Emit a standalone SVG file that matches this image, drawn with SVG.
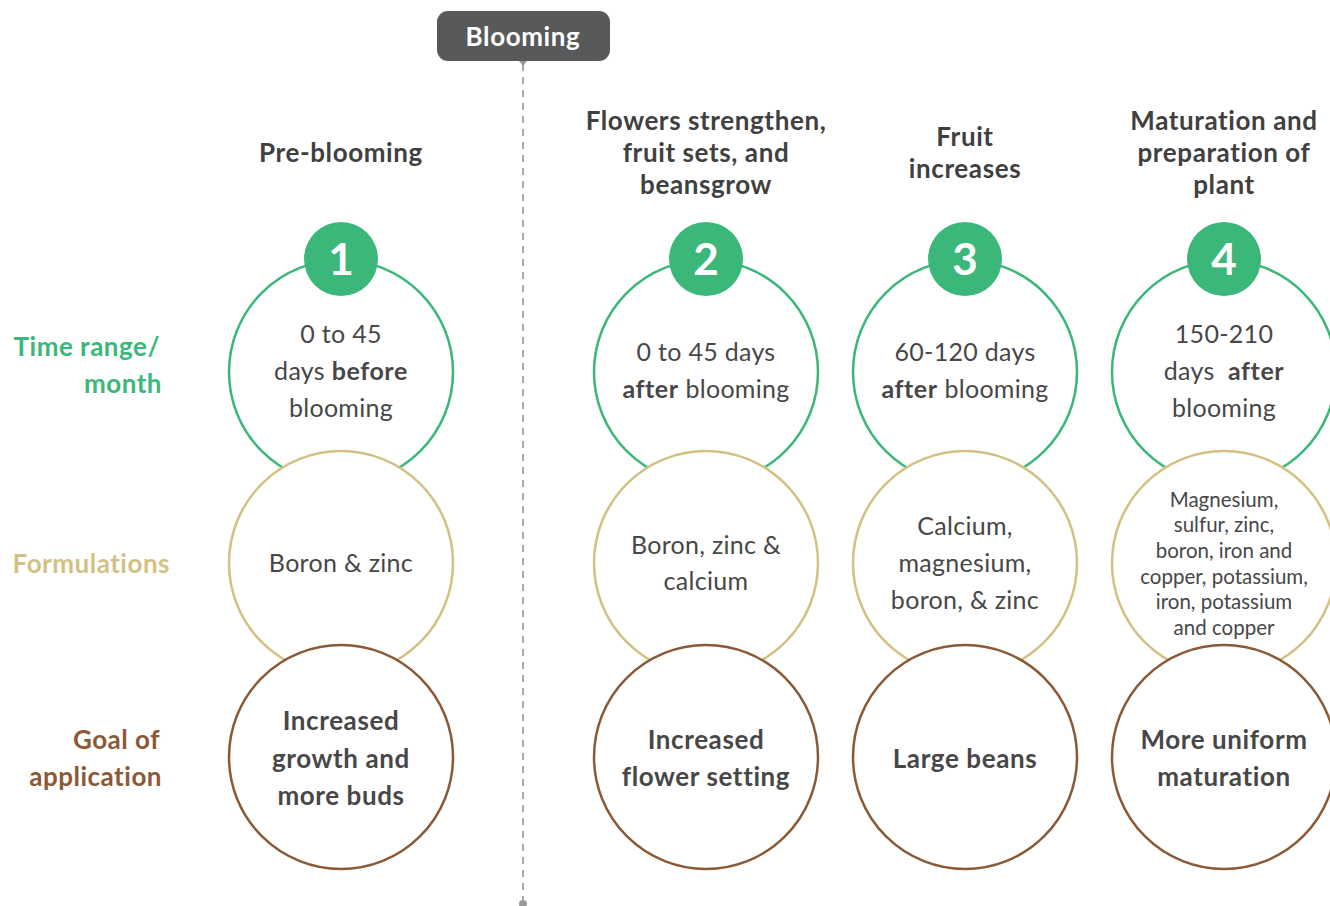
<svg xmlns="http://www.w3.org/2000/svg" width="1330" height="906" viewBox="0 0 1330 906">
<style>
text{font-family:"Lato","Liberation Sans",sans-serif;text-anchor:middle;}
.h{font-size:26px;font-weight:700;fill:#404040;letter-spacing:0.6px;}
.t{font-size:25px;fill:#474747;letter-spacing:0.3px;}
.tb{font-weight:700;letter-spacing:0.6px;}
.s{font-size:20.5px;fill:#474747;}
.g{font-size:26px;font-weight:700;fill:#474747;letter-spacing:0.6px;}
.lab{font-size:26px;font-weight:700;text-anchor:end;letter-spacing:0.5px;}
.cg{fill:#fff;stroke:#3bb77a;stroke-width:2.5;}
.cy{fill:#fff;stroke:#d3c184;stroke-width:2.5;}
.cb{fill:#fff;stroke:#8a5a37;stroke-width:2.5;}
.badge{fill:#3bb77a;}
.num{font-size:44px;font-weight:700;fill:#fff;}
</style>
<rect width="1330" height="906" fill="#fff"/>
<g id="connectors">
<line x1="523" y1="64" x2="523" y2="900" stroke="#aaa" stroke-width="2" stroke-dasharray="7 6"/>
<path d="M519,61 L527,61 L523,66 Z" fill="#999"/>
<circle cx="523" cy="904" r="4" fill="#999"/>
</g>
<g id="blooming">
<rect x="437" y="11" width="173" height="50" rx="11" fill="#58595b"/>
<text x="523" y="46" font-size="26" font-weight="700" fill="#fff" letter-spacing="0.6">Blooming</text>
</g>
<g id="labels">
<text class="lab" x="160" y="356" fill="#3bb77a">Time range/</text>
<text class="lab" x="162" y="393" fill="#3bb77a">month</text>
<text class="lab" x="170" y="573" fill="#d3c184">Formulations</text>
<text class="lab" x="160" y="749" fill="#8a5a37">Goal of</text>
<text class="lab" x="162" y="786" fill="#8a5a37">application</text>
</g>
<g id="col1">
<text class="h" x="341" y="162">Pre-blooming</text>
<circle class="cg" cx="341" cy="372" r="112"/>
<circle class="cy" cx="341" cy="563" r="112"/>
<circle class="cb" cx="341" cy="757" r="112"/>
<circle class="badge" cx="341" cy="259" r="37"/>
<text class="num" x="341" y="275">1</text>
<text class="t" x="341" y="343">0 to 45</text>
<text class="t" x="341" y="380">days <tspan class="tb">before</tspan></text>
<text class="t" x="341" y="417">blooming</text>
<text class="t" x="341" y="572">Boron &amp; zinc</text>
<text class="g" x="341" y="730">Increased</text>
<text class="g" x="341" y="768">growth and</text>
<text class="g" x="341" y="805">more buds</text>
</g>
<g id="col2">
<text class="h" x="706" y="130">Flowers strengthen,</text>
<text class="h" x="706" y="162">fruit sets, and</text>
<text class="h" x="706" y="194">beansgrow</text>
<circle class="cg" cx="706" cy="372" r="112"/>
<circle class="cy" cx="706" cy="563" r="112"/>
<circle class="cb" cx="706" cy="757" r="112"/>
<circle class="badge" cx="706" cy="259" r="37"/>
<text class="num" x="706" y="275">2</text>
<text class="t" x="706" y="361">0 to 45 days</text>
<text class="t" x="706" y="398"><tspan class="tb">after</tspan> blooming</text>
<text class="t" x="706" y="554">Boron, zinc &amp;</text>
<text class="t" x="706" y="590">calcium</text>
<text class="g" x="706" y="749">Increased</text>
<text class="g" x="706" y="786">flower setting</text>
</g>
<g id="col3">
<text class="h" x="965" y="146">Fruit</text>
<text class="h" x="965" y="178">increases</text>
<circle class="cg" cx="965" cy="372" r="112"/>
<circle class="cy" cx="965" cy="563" r="112"/>
<circle class="cb" cx="965" cy="757" r="112"/>
<circle class="badge" cx="965" cy="259" r="37"/>
<text class="num" x="965" y="275">3</text>
<text class="t" x="965" y="361">60-120 days</text>
<text class="t" x="965" y="398"><tspan class="tb">after</tspan> blooming</text>
<text class="t" x="965" y="535">Calcium,</text>
<text class="t" x="965" y="572">magnesium,</text>
<text class="t" x="965" y="609">boron, &amp; zinc</text>
<text class="g" x="965" y="768">Large beans</text>
</g>
<g id="col4">
<text class="h" x="1224" y="130">Maturation and</text>
<text class="h" x="1224" y="162">preparation of</text>
<text class="h" x="1224" y="194">plant</text>
<circle class="cg" cx="1224" cy="372" r="112"/>
<circle class="cy" cx="1224" cy="563" r="112"/>
<circle class="cb" cx="1224" cy="757" r="112"/>
<circle class="badge" cx="1224" cy="259" r="37"/>
<text class="num" x="1224" y="275">4</text>
<text class="t" x="1224" y="343">150-210</text>
<text class="t" x="1224" y="380">days&#160; <tspan class="tb">after</tspan></text>
<text class="t" x="1224" y="417">blooming</text>
<text class="s" x="1224" y="507">Magnesium,</text>
<text class="s" x="1224" y="532">sulfur, zinc,</text>
<text class="s" x="1224" y="558">boron, iron and</text>
<text class="s" x="1224" y="584">copper, potassium,</text>
<text class="s" x="1224" y="609">iron, potassium</text>
<text class="s" x="1224" y="635">and copper</text>
<text class="g" x="1224" y="749">More uniform</text>
<text class="g" x="1224" y="786">maturation</text>
</g>
</svg>
